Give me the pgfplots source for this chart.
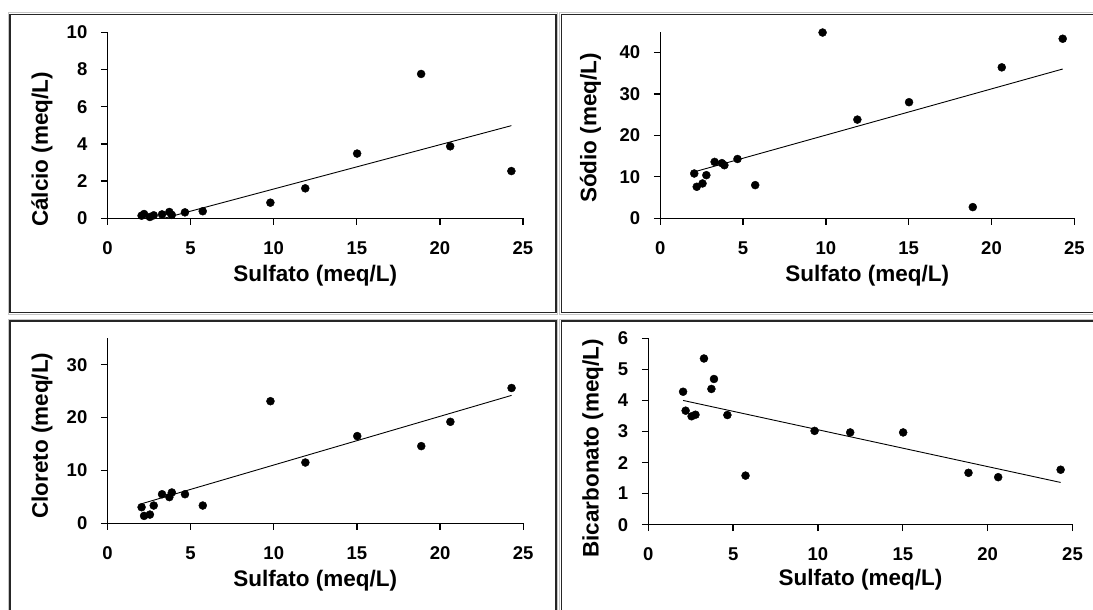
\documentclass[border=0pt]{standalone}
\usepackage{fontspec}
\setmainfont{Liberation Sans}
\usepackage{pgfplots}
\pgfplotsset{compat=1.18}

\newcommand{\lblfont}{\fontsize{22.5}{26}\selectfont\bfseries}
\newcommand{\tckfont}{\fontsize{18.5}{20}\selectfont\bfseries}

\pgfplotsset{
  painel/.style={
    scale only axis, anchor=origin,
    xmin=0, xmax=25, ymin=0,
    xtick={0,5,10,15,20,25},
    axis lines=left, axis line style={-, black, line width=1.3pt},
    tick align=outside, major tick length=6.5pt,
    tick style={black, line width=1.3pt},
    ticklabel style={font=\tckfont},
    xticklabel style={inner sep=0pt, yshift=-16.5pt},
    yticklabel style={inner sep=0pt, xshift=-13.5pt},
    /pgf/number format/assume math mode=true,
    label style={font=\lblfont},
    xlabel={Sulfato (meq/L)},
    clip=false,
  },
  pontos/.style={only marks, mark=*, mark size=4pt, black},
  reta/.style={no marks, black, line width=0.9pt},
}

\begin{document}
\begin{tikzpicture}
\path[use as bounding box] (0pt,0pt) rectangle (1093pt,610pt);
\clip (0pt,0pt) rectangle (1093pt,610pt);
\fill[white] (0pt,0pt) rectangle (1093pt,610pt);

% molduras dos quatro graficos
\foreach \xa/\ya/\xb/\yb in {9.8/297.5/556/595.5, 561.3/297.5/1110/595.5,
                             9.8/-20/556/289, 561.3/-20/1110/289}{
  \draw[gray!45, line width=1pt] (\xa pt-1.8pt,\ya pt-1.8pt) rectangle (\xb pt+1.8pt,\yb pt+1.8pt);
  \draw[black!85, line width=1.5pt] (\xa pt,\ya pt) rectangle (\xb pt,\yb pt);
}

% Calcio
\begin{axis}[painel, at={(107.5pt,391.7pt)}, width=415.5pt, height=186pt,
  ymax=10, ytick={0,2,4,6,8,10},
  ylabel={Cálcio (meq/L)},
  ylabel style={at={(axis description cs:-0.1576,0.37)}, anchor=center},
  xlabel style={at={(axis description cs:0.5,-0.306)}, anchor=center}]
\addplot[pontos] coordinates {
  (2.05,0.14)(2.2,0.23)(2.55,0.07)(2.78,0.16)(3.28,0.21)(3.72,0.34)(3.87,0.18)
  (4.66,0.32)(5.73,0.38)(9.8,0.84)(11.9,1.61)(15.02,3.48)(18.87,7.76)
  (20.62,3.87)(24.3,2.54)};
\addplot[reta] coordinates {(3.39,0) (24.3,4.98)};
\end{axis}

% Sodio
\begin{axis}[painel, at={(660.3pt,391.7pt)}, width=414pt, height=186.6pt,
  ymax=45, ytick={0,10,20,30,40},
  ylabel={Sódio (meq/L)},
  ylabel style={at={(axis description cs:-0.169,0.484)}, anchor=center},
  xlabel style={at={(axis description cs:0.5,-0.306)}, anchor=center}]
\addplot[pontos] coordinates {
  (2.05,10.8)(2.2,7.6)(2.55,8.4)(2.78,10.4)(3.28,13.6)(3.72,13.3)(3.87,12.8)
  (4.66,14.3)(5.73,8.0)(9.8,44.8)(11.9,23.8)(15.02,28.0)(18.87,2.7)
  (20.62,36.4)(24.3,43.3)};
\addplot[reta] coordinates {(2.05,11.2) (24.3,36.0)};
\end{axis}

% Cloreto
\begin{axis}[painel, at={(107.5pt,86.7pt)}, width=415.7pt, height=185pt,
  ymax=35, ytick={0,10,20,30},
  ylabel={Cloreto (meq/L)},
  ylabel style={at={(axis description cs:-0.1576,0.473)}, anchor=center},
  xlabel style={at={(axis description cs:0.5,-0.308)}, anchor=center}]
\addplot[pontos] coordinates {
  (2.05,3.04)(2.2,1.4)(2.55,1.65)(2.78,3.36)(3.28,5.5)(3.72,4.95)(3.87,5.83)
  (4.66,5.5)(5.73,3.36)(9.8,23.1)(11.9,11.5)(15.02,16.5)(18.87,14.6)
  (20.62,19.2)(24.3,25.6)};
\addplot[reta] coordinates {(2.05,3.7) (24.3,24.2)};
\end{axis}

% Bicarbonato
\begin{axis}[painel, at={(648.3pt,85.3pt)}, width=424.2pt, height=186.4pt,
  ymax=6, ytick={0,1,2,3,4,5,6},
  ylabel={Bicarbonato (meq/L)},
  ylabel style={at={(axis description cs:-0.131,0.41)}, anchor=center},
  xlabel style={at={(axis description cs:0.5,-0.295)}, anchor=center}]
\addplot[pontos] coordinates {
  (2.05,4.28)(2.2,3.67)(2.55,3.49)(2.78,3.54)(3.28,5.35)(3.72,4.37)(3.87,4.69)
  (4.66,3.53)(5.73,1.58)(9.8,3.02)(11.9,2.97)(15.02,2.97)(18.87,1.67)
  (20.62,1.53)(24.3,1.77)};
\addplot[reta] coordinates {(2.05,4.0) (24.3,1.36)};
\end{axis}
\end{tikzpicture}
\end{document}
